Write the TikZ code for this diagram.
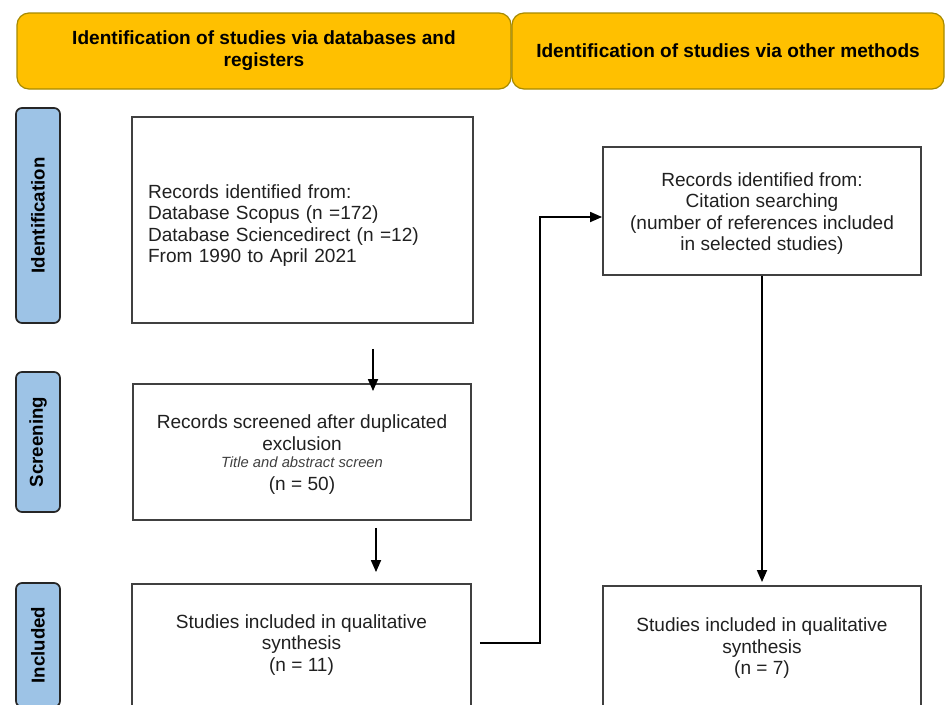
\documentclass[tikz,border=0pt]{standalone}
\usepackage{fontspec}
\setmainfont{Liberation Sans}
\usetikzlibrary{arrows.meta,calc}
\definecolor{hdrfill}{HTML}{FFC000}
\definecolor{hdrline}{HTML}{A68A00}
\definecolor{sidefill}{HTML}{9DC3E6}
\definecolor{sideline}{HTML}{262626}
\definecolor{boxline}{HTML}{404040}
\definecolor{txt}{HTML}{202020}
\definecolor{subtxt}{HTML}{404040}
\begin{document}
\begin{tikzpicture}[x=0.75pt,y=-0.75pt,
  hdr/.style={draw=hdrline, fill=hdrfill, line width=0.9pt, rounded corners=9pt,
    font=\fontsize{14.3}{16.6}\selectfont\bfseries, align=center, inner sep=0pt, minimum height=57pt},
  side/.style={draw=sideline, fill=sidefill, line width=1.3pt, rounded corners=4.5pt,
    rotate=90, minimum height=33pt, inner sep=0pt, font=\fontsize{14}{16}\selectfont\bfseries},
  stage/.style={draw=boxline, line width=1.4pt, align=center, inner sep=0pt, text=txt,
    font=\fontsize{14.3}{16.1}\selectfont},
  arr/.style={draw=black, line width=1.3pt, -{Triangle[length=9pt,width=7.5pt]}}
]
\useasboundingbox (0,0) rectangle (945,704);
\clip (0,0) rectangle (945,704);

% headers
\node[hdr, minimum width=370.5pt] (h1) at (264,51) {Identification of studies via databases and\\registers};
\node[hdr, minimum width=324pt] (h2) at (728,51) {Identification of studies via other methods};

% side labels
\node[side, minimum width=161.25pt] (sid) at (38,215.5) {Identification};
\node[side, minimum width=105pt] (ssc) at (38,442) {Screening};
\node[side, minimum width=93pt] (sin) at (38,645) {Included};

% boxes
\node[stage, minimum width=255.75pt, minimum height=154.5pt, text width=231.75pt, inner xsep=12pt, align=left] (A) at (302.5,220)
  {\rule{0pt}{19pt}Records identified from:\\Database Scopus (n =172)\\Database Sciencedirect (n =12)\\From 1990 to April 2021};
\node[stage, minimum width=253.5pt, minimum height=102pt] (B) at (302,452)
  {\rule{0pt}{14pt}Records screened after duplicated\\exclusion\\[-3.4pt]{\fontsize{11.1}{13}\selectfont\itshape\color{subtxt}Title and abstract screen}\\[1.1pt](n = 50)};
\node[stage, minimum width=254.25pt, minimum height=91.5pt] (C) at (301.5,645)
  {Studies included in qualitative\\synthesis\\(n = 11)};
\node[stage, minimum width=238.5pt, minimum height=96pt] (D) at (762,211)
  {\rule{0pt}{14pt}Records identified from:\\Citation searching\\(number of references included\\in selected studies)};
\node[stage, minimum width=238.5pt, minimum height=93.75pt] (E) at (762,648.5)
  {Studies included in qualitative\\synthesis\\(n = 7)};

% connectors
\coordinate (a1) at ($(A.south)+(70.5,25)$);
\draw[arr] (a1) -- ($(a1 |- B.north)+(0,8)$);
\coordinate (b1) at ($(B.south)+(74,7)$);
\draw[arr] (b1) -- ($(b1 |- C.north)+(0,-11)$);
\coordinate (c1) at ($(C.east)+(8,-2)$);
\coordinate (d1) at ($(D.west)+(0,6)$);
\draw[arr] (c1) -| ($(d1)+(-62,0)$) -- (d1);
\draw[arr] (D.south) -- ($(E.north)+(0,-3)$);
\end{tikzpicture}
\end{document}
